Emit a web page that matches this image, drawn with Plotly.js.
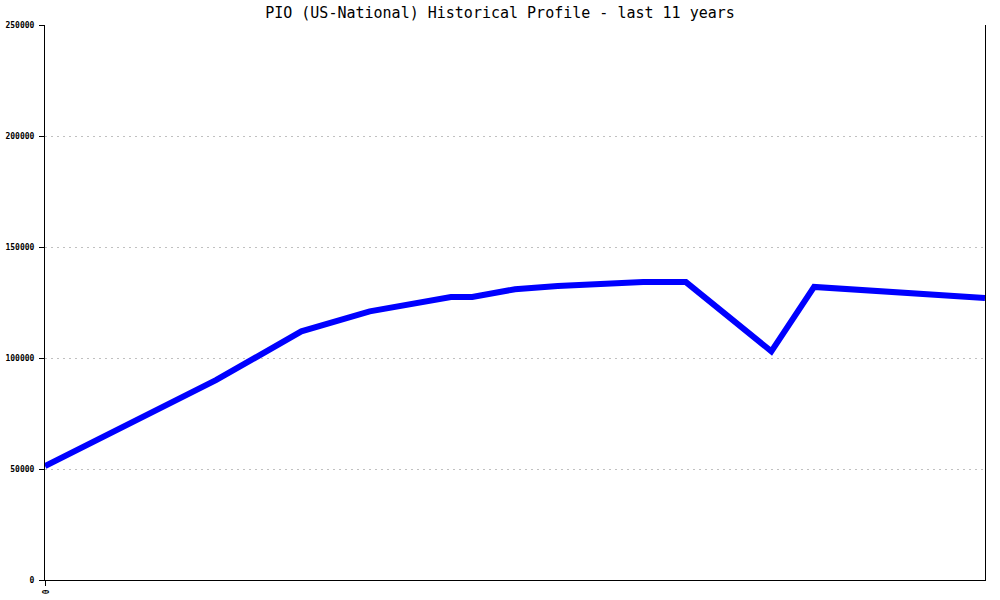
<!DOCTYPE html>
<html>
<head>
<meta charset="utf-8">
<script src="https://cdn.plot.ly/plotly-3.0.1.min.js"></script>
<style>html,body{margin:0;padding:0;background:#fff}#chart{width:1000px;height:600px}</style>
</head>
<body>
<div id="chart"></div>
<script>
// Time position (years from start) and profile values
const years = [0, 2, 3, 3.8, 4.75, 5, 5.5, 6, 7, 7.5, 8.5, 9, 11];
const values = [51300, 90000, 112000, 121000, 127500, 127500, 131000, 132400, 134200, 134200, 103000, 132000, 127000];
const xTickVals = [0];
const xTickText = ['0'];
const yTickVals = [0, 50000, 100000, 150000, 200000, 250000];
const titleText = 'PIO (US-National) Historical Profile - last 11 years';

const trace = {
  x: years,
  y: values,
  type: 'scatter',
  mode: 'lines',
  line: {color: '#0000ff', width: 6, shape: 'linear'},
  hoverinfo: 'none'
};

const layout = {
  width: 1000,
  height: 600,
  paper_bgcolor: '#ffffff',
  plot_bgcolor: '#ffffff',
  margin: {l: 45, r: 15, t: 25, b: 20, pad: 0},
  showlegend: false,
  title: {
    text: titleText,
    x: 0.5, xref: 'container', xanchor: 'center',
    y: 0.978, yref: 'container', yanchor: 'middle',
    font: {family: 'DejaVu Sans Mono, monospace', size: 15, color: '#000000'}
  },
  xaxis: {
    range: [0, 11],
    showgrid: false,
    zeroline: false,
    showline: true,
    linecolor: '#000000',
    linewidth: 1,
    tickmode: 'array',
    tickvals: xTickVals,
    ticktext: xTickText,
    ticks: 'outside',
    ticklen: 5,
    tickcolor: '#000000',
    tickangle: 90,
    ticklabelstandoff: 2,
    tickfont: {family: 'DejaVu Sans Mono, monospace', size: 8, color: '#000000', weight: 'bold'},
    fixedrange: true
  },
  yaxis: {
    range: [0, 250000],
    tickmode: 'array',
    tickvals: yTickVals,
    tickformat: 'd',
    showgrid: true,
    gridcolor: '#c0c0c0',
    griddash: '2px,4px',
    gridwidth: 1,
    zeroline: false,
    showline: true,
    mirror: true,
    linecolor: '#000000',
    linewidth: 1,
    ticks: 'outside',
    ticklen: 5,
    tickcolor: '#000000',
    ticklabelstandoff: 3,
    tickfont: {family: 'DejaVu Sans Mono, monospace', size: 8, color: '#000000', weight: 'bold'},
    fixedrange: true
  }
};

Plotly.newPlot('chart', [trace], layout, {staticPlot: true, displayModeBar: false});
</script>
</body>
</html>
